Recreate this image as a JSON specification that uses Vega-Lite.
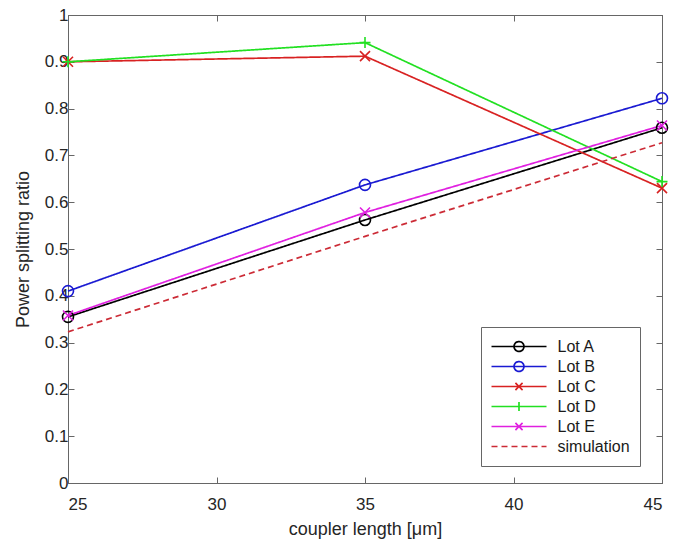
{
  "$schema": "https://vega.github.io/schema/vega-lite/v6.json",
  "autosize": "none",
  "width": 594,
  "height": 468,
  "padding": {"left": 68, "top": 15, "right": 11, "bottom": 63},
  "background": "white",
  "config": {
    "view": {"stroke": "#666666", "strokeWidth": 1},
    "axis": {
      "grid": false,
      "labelFont": "Liberation Sans",
      "titleFont": "Liberation Sans",
      "labelFontSize": 17,
      "titleFontSize": 18,
      "titleFontWeight": "normal",
      "labelColor": "#262626",
      "titleColor": "#262626",
      "domainColor": "#666666",
      "tickColor": "#666666",
      "tickSize": -6,
      "tickWidth": 1
    },
    "legend": {
      "labelFont": "Liberation Sans"
    }
  },
  "data": {
    "values": [
      {"series": "Lot A", "length": 25, "ratio": 0.355},
      {"series": "Lot A", "length": 35, "ratio": 0.562},
      {"series": "Lot A", "length": 45, "ratio": 0.759},
      {"series": "Lot B", "length": 25, "ratio": 0.410},
      {"series": "Lot B", "length": 35, "ratio": 0.637},
      {"series": "Lot B", "length": 45, "ratio": 0.822},
      {"series": "Lot C", "length": 25, "ratio": 0.900},
      {"series": "Lot C", "length": 35, "ratio": 0.912},
      {"series": "Lot C", "length": 45, "ratio": 0.630},
      {"series": "Lot D", "length": 25, "ratio": 0.900},
      {"series": "Lot D", "length": 35, "ratio": 0.941},
      {"series": "Lot D", "length": 45, "ratio": 0.644},
      {"series": "Lot E", "length": 25, "ratio": 0.358},
      {"series": "Lot E", "length": 35, "ratio": 0.578},
      {"series": "Lot E", "length": 45, "ratio": 0.764},
      {"series": "simulation", "length": 25, "ratio": 0.323},
      {"series": "simulation", "length": 35, "ratio": 0.527},
      {"series": "simulation", "length": 45, "ratio": 0.727}
    ]
  },
  "resolve": {"axis": {"x": "independent", "y": "independent"}},
  "layer": [
    {
      "mark": {"type": "line", "strokeWidth": 1.7, "clip": false},
      "encoding": {
        "x": {
          "field": "length", "type": "quantitative",
          "scale": {"domain": [25, 45], "nice": false, "zero": false},
          "axis": {"orient": "bottom", "values": [25, 30, 35, 40, 45], "title": "coupler length [μm]", "labelPadding": 19, "titlePadding": 8}
        },
        "y": {
          "field": "ratio", "type": "quantitative",
          "scale": {"domain": [0, 1], "nice": false},
          "axis": {"orient": "left", "values": [0, 0.1, 0.2, 0.3, 0.4, 0.5, 0.6, 0.7, 0.8, 0.9, 1], "format": "~g", "title": "Power splitting ratio", "labelPadding": 6, "titlePadding": 12}
        },
        "color": {
          "field": "series", "type": "nominal",
          "scale": {
            "domain": ["Lot A", "Lot B", "Lot C", "Lot D", "Lot E", "simulation"],
            "range": ["#000000", "#1a1ad2", "#d82222", "#22e022", "#e020e0", "#cc2b36"]
          },
          "legend": {
            "title": null,
            "orient": "none",
            "legendX": 413,
            "legendY": 312,
            "fillColor": "white",
            "strokeColor": "#666666",
            "padding": 9.5,
            "symbolType": "M-1,0L1,0",
            "symbolSize": 3025,
            "symbolStrokeWidth": 1.7,
            "symbolFillColor": "transparent",
            "labelFontSize": 16,
            "labelColor": "#1a1a1a",
            "labelOffset": 10,
            "labelExpr": "datum.label + '\u00a0\u00a0'",
            "clipHeight": 20,
            "rowPadding": 0,
            "encode": {
              "symbols": {
                "update": {
                  "shape": {"signal": "datum.value === 'Lot A' || datum.value === 'Lot B' ? 'M-1,0L1,0M0.18,0A0.18,0.18 0 1,1 -0.18,0A0.18,0.18 0 1,1 0.18,0' : datum.value === 'Lot D' ? 'M-1,0L1,0M0,-0.16L0,0.16' : datum.value === 'simulation' ? 'M-1,0L1,0' : 'M-1,0L1,0M-0.13,-0.13L0.13,0.13M-0.13,0.13L0.13,-0.13'"},
                  "strokeDash": {"signal": "datum.value === 'simulation' ? [6, 4] : [1, 0]"},
                  "fill": {"value": "transparent"},
                  "stroke": {"scale": "color", "field": "value"}
                }
              }
            }
          }
        },
        "strokeDash": {
          "field": "series", "type": "nominal",
          "scale": {
            "domain": ["Lot A", "Lot B", "Lot C", "Lot D", "Lot E", "simulation"],
            "range": [[1, 0], [1, 0], [1, 0], [1, 0], [1, 0], [6, 4]]
          },
          "legend": null
        }
      }
    },
    {
      "transform": [{"filter": "datum.series !== 'simulation'"}],
      "mark": {"type": "point", "filled": false, "size": 100, "strokeWidth": 1.6, "opacity": 1, "clip": false},
      "encoding": {
        "x": {
          "field": "length", "type": "quantitative",
          "axis": {"orient": "top", "values": [25, 30, 35, 40, 45], "labels": false, "title": null}
        },
        "y": {
          "field": "ratio", "type": "quantitative",
          "axis": {"orient": "right", "values": [0, 0.1, 0.2, 0.3, 0.4, 0.5, 0.6, 0.7, 0.8, 0.9, 1], "labels": false, "title": null}
        },
        "color": {"field": "series", "type": "nominal"},
        "shape": {
          "field": "series", "type": "nominal",
          "scale": {
            "domain": ["Lot A", "Lot B", "Lot C", "Lot D", "Lot E"],
            "range": [
              "M1.1,0A1.1,1.1 0 1,1 -1.1,0A1.1,1.1 0 1,1 1.1,0",
              "M1.1,0A1.1,1.1 0 1,1 -1.1,0A1.1,1.1 0 1,1 1.1,0",
              "M-1,-1L1,1M-1,1L1,-1",
              "M-1.1,0L1.1,0M0,-1.1L0,1.1",
              "M-1,-1L1,1M-1,1L1,-1"
            ]
          },
          "legend": null
        }
      }
    }
  ]
}
